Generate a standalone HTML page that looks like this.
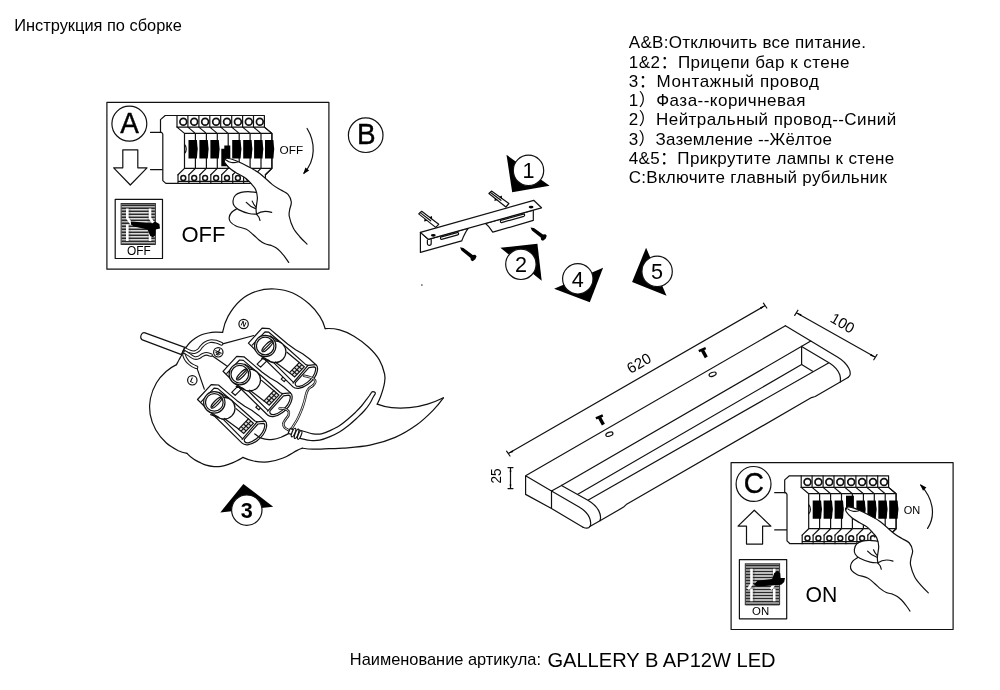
<!DOCTYPE html>
<html lang="ru">
<head>
<meta charset="utf-8">
<title>Инструкция по сборке</title>
<style>
html,body{margin:0;padding:0;background:#fff;}
body{width:1000px;height:690px;overflow:hidden;position:relative;font-family:"Liberation Sans","Noto Sans CJK SC",sans-serif;}
svg{position:absolute;left:0;top:0;display:block;will-change:transform;}
text{font-family:"Liberation Sans","Noto Sans CJK SC",sans-serif;fill:#000;}
.k{fill:none;stroke:#111;stroke-width:1.2;stroke-linecap:round;stroke-linejoin:round;}
.kw{fill:#fff;stroke:#111;stroke-width:1.2;stroke-linecap:round;stroke-linejoin:round;}
.t{fill:none;stroke:#222;stroke-width:0.8;stroke-linecap:round;stroke-linejoin:round;}
.tw{fill:#fff;stroke:#222;stroke-width:0.8;stroke-linecap:round;stroke-linejoin:round;}
.b{fill:#000;stroke:none;}
.w{fill:#fff;stroke:none;}
</style>
</head>
<body>
<svg width="1000" height="690" viewBox="0 0 1000 690">
<rect x="0" y="0" width="1000" height="690" fill="#fff"/>
<g id="texts">
<text x="14.2" y="31.4" font-size="16.4">Инструкция по сборке</text>
<text x="628.8" y="48.3" font-size="17" letter-spacing="0.3">A&amp;B:Отключить все питание.</text>
<text x="628.8" y="67.5" font-size="17" letter-spacing="0.47">1&amp;2：Прицепи бар к стене</text>
<text x="628.8" y="86.8" font-size="17" letter-spacing="0.6">3：Монтажный провод</text>
<text x="628.8" y="106" font-size="17" letter-spacing="0.48">1）Фаза--коричневая</text>
<text x="628.8" y="125.3" font-size="17" letter-spacing="0.42">2）Нейтральный провод--Синий</text>
<text x="628.8" y="144.5" font-size="17" letter-spacing="0.15">3）Заземление --Жёлтое</text>
<text x="628.8" y="163.7" font-size="17" letter-spacing="0.33">4&amp;5：Прикрутите лампы к стене</text>
<text x="628.8" y="183" font-size="17" letter-spacing="0.27">C:Включите главный рубильник</text>
<text x="349.8" y="665" font-size="16.4">Наименование артикула:</text>
<text x="547.4" y="666.6" font-size="20.1">GALLERY B AP12W LED</text>
</g>
<g id="panelA" transform="translate(0 0)">
<rect x="106.9" y="102.3" width="222" height="166.9" class="kw" stroke-width="1.5"/>
<circle cx="129.35" cy="123.65" r="17.45" class="kw" stroke-width="1.4"/>
<text transform="translate(129.6 133) scale(0.95 1)" font-size="29.4" text-anchor="middle" stroke="#000" stroke-width="0.4">A</text>
<path class="kw" stroke-width="1.4" d="M122.8 149.8H137.8V167.8H147L130.3 185L113.7 167.8H122.8Z"/>
<path class="k" stroke-width="1.3" d="M150.5 132.4H162.8M150.5 169.6H162.8"/>
<path class="kw" d="M165.2 115.5H264.4V127.1L271.9 133.4V168.4L265.4 174.8V183.4H165.8L162.8 180.6V134L161.6 132.4H160.5V119.6Z"/>
<path class="k" stroke-width="0.9" stroke="#444" d="M177 115.5V127.1M178 174.8V183.4M187.9 115.5V127.1M188.9 174.8V183.4M198.9 115.5V127.1M199.9 174.8V183.4M209.8 115.5V127.1M210.8 174.8V183.4M220.7 115.5V127.1M221.7 174.8V183.4M231.7 115.5V127.1M232.7 174.8V183.4M242.6 115.5V127.1M243.6 174.8V183.4M253.5 115.5V127.1M254.5 174.8V183.4M178 181.3H265.4"/>
<path class="k" stroke-width="1.35" d="M177 127.1L184.5 133.4V168.4L178 174.8M187.9 127.1L195.4 133.4V168.4L188.9 174.8M198.9 127.1L206.4 133.4V168.4L199.9 174.8M209.8 127.1L217.3 133.4V168.4L210.8 174.8M220.7 127.1L228.2 133.4V168.4L221.7 174.8M231.7 127.1L239.2 133.4V168.4L232.7 174.8M242.6 127.1L250.1 133.4V168.4L243.6 174.8M253.5 127.1L261 133.4V168.4L254.5 174.8M264.4 127.1L271.9 133.4V168.4L265.4 174.8M177 127.1H264.4M184.5 133.4H271.9M184.5 168.4H271.9"/>
<path class="k" stroke-width="1" d="M184.5 144.5C186.8 146.5 186.8 151.5 184.5 153.5"/>
<circle cx="183.3" cy="121.7" r="3.4" fill="#fff" stroke="#111" stroke-width="1.7"/>
<circle cx="183.3" cy="178" r="2.45" fill="#fff" stroke="#111" stroke-width="1.5"/>
<circle cx="194.2" cy="121.7" r="3.4" fill="#fff" stroke="#111" stroke-width="1.7"/>
<circle cx="194.2" cy="178" r="2.45" fill="#fff" stroke="#111" stroke-width="1.5"/>
<circle cx="205.1" cy="121.7" r="3.4" fill="#fff" stroke="#111" stroke-width="1.7"/>
<circle cx="205.1" cy="178" r="2.45" fill="#fff" stroke="#111" stroke-width="1.5"/>
<circle cx="216.1" cy="121.7" r="3.4" fill="#fff" stroke="#111" stroke-width="1.7"/>
<circle cx="216.1" cy="178" r="2.45" fill="#fff" stroke="#111" stroke-width="1.5"/>
<circle cx="227" cy="121.7" r="3.4" fill="#fff" stroke="#111" stroke-width="1.7"/>
<circle cx="227" cy="178" r="2.45" fill="#fff" stroke="#111" stroke-width="1.5"/>
<circle cx="237.9" cy="121.7" r="3.4" fill="#fff" stroke="#111" stroke-width="1.7"/>
<circle cx="237.9" cy="178" r="2.45" fill="#fff" stroke="#111" stroke-width="1.5"/>
<circle cx="248.8" cy="121.7" r="3.4" fill="#fff" stroke="#111" stroke-width="1.7"/>
<circle cx="248.8" cy="178" r="2.45" fill="#fff" stroke="#111" stroke-width="1.5"/>
<circle cx="259.8" cy="121.7" r="3.4" fill="#fff" stroke="#111" stroke-width="1.7"/>
<circle cx="259.8" cy="178" r="2.45" fill="#fff" stroke="#111" stroke-width="1.5"/>
<path class="b" d="M188.5 140.1H196.9L197.4 146Q198.1 149 197.4 152L196.9 158.4H188.5Z"/>
<path class="b" d="M199.4 140.1H207.8L208.3 146Q209 149 208.3 152L207.8 158.4H199.4Z"/>
<path class="b" d="M210.4 140.1H218.8L219.3 146Q220 149 219.3 152L218.8 158.4H210.4Z"/>
<path class="b" d="M221.3 148.7H224.3V145.5H230.3V158H228.3V166.3H221.3Z"/>
<path class="b" d="M232.2 140.1H240.6L241.1 146Q241.8 149 241.1 152L240.6 158.4H232.2Z"/>
<path class="b" d="M243.2 140.1H251.6L252.1 146Q252.8 149 252.1 152L251.6 158.4H243.2Z"/>
<path class="b" d="M254.1 140.1H262.5L263 146Q263.7 149 263 152L262.5 158.4H254.1Z"/>
<path class="b" d="M265 140.1H273.4L273.9 146Q274.6 149 273.9 152L273.4 158.4H265Z"/>
<text x="279.6" y="153.5" font-size="11.8">OFF</text>
<path class="k" stroke-width="1" d="M307.1 128.5C315.5 142 316 160 304 173"/>
<path class="b" d="M303.2 174.2L305.4 167.6L309.2 170.6Z"/>
<rect x="115.2" y="199.3" width="47.3" height="59.2" class="kw" stroke-width="1.3"/>
<rect x="121.1" y="203.5" width="34.3" height="40.9" fill="#b4b4b4" stroke="#333" stroke-width="1"/>
<path d="M121.6 205.2H154.9M121.6 208.2H154.9M121.6 211.2H154.9M121.6 214.2H154.9M121.6 217.2H154.9M121.6 220.2H154.9M121.6 223.2H154.9M121.6 226.2H154.9M121.6 229.2H154.9M121.6 232.2H154.9M121.6 235.2H154.9M121.6 238.2H154.9M121.6 241.2H154.9M121.6 244.2H154.9" stroke="#2a2a2a" stroke-width="1.5" fill="none"/>
<path d="M130.5 209.7H147.5M130.5 212.7H147.5M130.5 215.7H147.5M130.5 218.7H147.5M130.5 221.7H147.5M130.5 224.7H147.5M130.5 227.7H147.5M130.5 230.7H147.5M130.5 233.7H147.5M130.5 236.7H147.5M130.5 239.7H147.5" stroke="#e8e8e8" stroke-width="1.1" fill="none"/>
<path d="M127.3 208.5V218L131.5 224M127.3 224.5V241M150 208.5V218L154 224M150 224.5V241" stroke="#fff" stroke-width="2.6" fill="none"/>
<path class="b" d="M130.8 221.5L135 221.8L152 223.6L155 221.6L159.4 224L160 228.4L155.6 229.4L155.4 235L153 237.2L150.2 236L147.6 229.6L134 226.6L131 224.6Z"/>
<text x="139" y="254.9" font-size="11.9" text-anchor="middle">OFF</text>
<text x="181.4" y="241.6" font-size="22">OFF</text>
<g transform="translate(0 0)">
<path class="w" d="M226.7 158.1L232 159.2L241.1 163L258 172.2L272.4 184.6L281 190L288 194.3L291.3 202L289.6 210L289.3 216.5L293.3 228L300 237L307 244.1L300 262L288.7 262.4L284.8 256.8L280.2 251.3L276 247.7L271.1 245.4L265 243.8L259.3 240.2L253 234.5L246.3 229.3L236 226L230.5 222L229.2 217.5L231.5 212.5L236.5 208.9L233.1 200.5L235.5 195.2L241.1 192.4L250 191L255.4 187.8L246.3 178.7L238 173.8L230.6 169L224.6 162Z"/>
<path class="k" stroke-width="1.25" d="M226.7 158.1C227.6 158.3 229.6 158.4 232 159.2C234.4 160 236.8 160.8 241.1 163C245.4 165.2 252.8 168.6 258 172.2C263.2 175.8 268.6 181.6 272.4 184.6C276.2 187.6 278.4 188.4 281 190C283.6 191.6 286.3 192.3 288 194.3C289.7 196.3 291 199.4 291.3 202C291.6 204.6 289.9 207.6 289.6 210C289.3 212.4 288.7 213.5 289.3 216.5C289.9 219.5 291.5 224.6 293.3 228C295.1 231.4 297.7 234.3 300 237C302.3 239.7 305.8 242.9 307 244.1"/>
<path class="k" stroke-width="1.25" d="M226.7 158.1C226.3 158.3 224.7 158.8 224.4 159.6C224.1 160.4 224 161.4 225 163C226 164.6 228.4 167.2 230.6 169C232.8 170.8 235.4 172.2 238 173.8C240.6 175.4 244 176.9 246.3 178.7C248.6 180.5 250.4 182.8 252 184.6C253.6 186.4 254.7 187.3 255.6 189.5C256.5 191.7 257.3 194.7 257.4 197.8C257.5 200.9 256.2 205.6 256.1 208.3C256 211 256.2 212.7 256.7 214.1C257.1 215.5 258.2 215.9 258.8 217C259.4 218.1 259.8 219.9 260 220.5"/>
<path class="k" stroke-width="1.25" d="M256.3 192.4C254.9 192.3 250.5 191.6 248 191.6C245.5 191.6 243.2 191.8 241.1 192.4C239 193 236.8 193.8 235.5 195.2C234.2 196.5 233.3 198.8 233.1 200.5C232.8 202.2 233.1 204 234 205.5C234.9 207 236 208.3 238.5 209.6C241 210.9 245.9 212.8 248.9 213.5C251.9 214.2 255.4 214 256.7 214.1"/>
<path class="k" stroke-width="1.25" d="M236.5 208.9C235.7 209.5 232.7 211.1 231.5 212.5C230.3 213.9 229.4 215.9 229.2 217.5C229 219.1 229.4 220.6 230.5 222C231.6 223.4 233.4 224.8 236 226C238.6 227.2 243.5 227.9 246.3 229.3C249.1 230.7 250.8 232.7 253 234.5C255.2 236.3 257.3 238.6 259.3 240.2C261.3 241.8 263 242.9 265 243.8C267 244.7 269.3 244.8 271.1 245.4C272.9 246.1 274.5 246.7 276 247.7C277.5 248.7 278.7 249.8 280.2 251.3C281.7 252.8 283.4 255 284.8 256.8C286.2 258.6 288.1 261.5 288.7 262.4"/>
<path class="k" stroke-width="1" d="M226.5 160.2C229 162.6 234 163.4 237.5 162"/>
<path class="k" stroke-width="1" d="M246.3 202.4C249 205.5 252 207.5 255.6 208.6M252.2 201.1C253.2 203.6 254.6 205.6 256 207"/>
<path class="k" stroke-width="1" d="M256.7 214.1C260 211.6 266 210.6 271.7 212.4"/>
</g>
</g>
<g id="panelC" transform="translate(624.2 360.3)">
<rect x="106.9" y="102.3" width="222" height="166.9" class="kw" stroke-width="1.5"/>
<circle cx="129.35" cy="123.65" r="17.45" class="kw" stroke-width="1.4"/>
<text transform="translate(129.6 133) scale(0.95 1)" font-size="29.4" text-anchor="middle" stroke="#000" stroke-width="0.4">C</text>
<path class="kw" stroke-width="1.4" d="M130.1 149.9L146.7 165.8H138.4V183.8H122.3V165.8H113.8Z"/>
<path class="k" stroke-width="1.3" d="M150.5 132.4H162.8M150.5 169.6H162.8"/>
<path class="kw" d="M165.2 115.5H264.4V127.1L271.9 133.4V168.4L265.4 174.8V183.4H165.8L162.8 180.6V134L161.6 132.4H160.5V119.6Z"/>
<path class="k" stroke-width="0.9" stroke="#444" d="M177 115.5V127.1M178 174.8V183.4M187.9 115.5V127.1M188.9 174.8V183.4M198.9 115.5V127.1M199.9 174.8V183.4M209.8 115.5V127.1M210.8 174.8V183.4M220.7 115.5V127.1M221.7 174.8V183.4M231.7 115.5V127.1M232.7 174.8V183.4M242.6 115.5V127.1M243.6 174.8V183.4M253.5 115.5V127.1M254.5 174.8V183.4M178 181.3H265.4"/>
<path class="k" stroke-width="1.35" d="M177 127.1L184.5 133.4V168.4L178 174.8M187.9 127.1L195.4 133.4V168.4L188.9 174.8M198.9 127.1L206.4 133.4V168.4L199.9 174.8M209.8 127.1L217.3 133.4V168.4L210.8 174.8M220.7 127.1L228.2 133.4V168.4L221.7 174.8M231.7 127.1L239.2 133.4V168.4L232.7 174.8M242.6 127.1L250.1 133.4V168.4L243.6 174.8M253.5 127.1L261 133.4V168.4L254.5 174.8M264.4 127.1L271.9 133.4V168.4L265.4 174.8M177 127.1H264.4M184.5 133.4H271.9M184.5 168.4H271.9"/>
<path class="k" stroke-width="1" d="M184.5 144.5C186.8 146.5 186.8 151.5 184.5 153.5"/>
<circle cx="183.3" cy="121.7" r="3.4" fill="#fff" stroke="#111" stroke-width="1.7"/>
<circle cx="183.3" cy="178" r="2.45" fill="#fff" stroke="#111" stroke-width="1.5"/>
<circle cx="194.2" cy="121.7" r="3.4" fill="#fff" stroke="#111" stroke-width="1.7"/>
<circle cx="194.2" cy="178" r="2.45" fill="#fff" stroke="#111" stroke-width="1.5"/>
<circle cx="205.1" cy="121.7" r="3.4" fill="#fff" stroke="#111" stroke-width="1.7"/>
<circle cx="205.1" cy="178" r="2.45" fill="#fff" stroke="#111" stroke-width="1.5"/>
<circle cx="216.1" cy="121.7" r="3.4" fill="#fff" stroke="#111" stroke-width="1.7"/>
<circle cx="216.1" cy="178" r="2.45" fill="#fff" stroke="#111" stroke-width="1.5"/>
<circle cx="227" cy="121.7" r="3.4" fill="#fff" stroke="#111" stroke-width="1.7"/>
<circle cx="227" cy="178" r="2.45" fill="#fff" stroke="#111" stroke-width="1.5"/>
<circle cx="237.9" cy="121.7" r="3.4" fill="#fff" stroke="#111" stroke-width="1.7"/>
<circle cx="237.9" cy="178" r="2.45" fill="#fff" stroke="#111" stroke-width="1.5"/>
<circle cx="248.8" cy="121.7" r="3.4" fill="#fff" stroke="#111" stroke-width="1.7"/>
<circle cx="248.8" cy="178" r="2.45" fill="#fff" stroke="#111" stroke-width="1.5"/>
<circle cx="259.8" cy="121.7" r="3.4" fill="#fff" stroke="#111" stroke-width="1.7"/>
<circle cx="259.8" cy="178" r="2.45" fill="#fff" stroke="#111" stroke-width="1.5"/>
<path class="b" d="M188.5 140.1H196.9L197.4 146Q198.1 149 197.4 152L196.9 158.4H188.5Z"/>
<path class="b" d="M199.4 140.1H207.8L208.3 146Q209 149 208.3 152L207.8 158.4H199.4Z"/>
<path class="b" d="M210.4 140.1H218.8L219.3 146Q220 149 219.3 152L218.8 158.4H210.4Z"/>
<path class="b" d="M221.8 135.4H229.7V150H221.8Z"/>
<path class="b" d="M232.2 140.1H240.6L241.1 146Q241.8 149 241.1 152L240.6 158.4H232.2Z"/>
<path class="b" d="M243.2 140.1H251.6L252.1 146Q252.8 149 252.1 152L251.6 158.4H243.2Z"/>
<path class="b" d="M254.1 140.1H262.5L263 146Q263.7 149 263 152L262.5 158.4H254.1Z"/>
<path class="b" d="M265 140.1H273.4L273.9 146Q274.6 149 273.9 152L273.4 158.4H265Z"/>
<text x="279.6" y="153.5" font-size="11">ON</text>
<path class="k" stroke-width="1" d="M296.6 125C308 137 312.5 154 303.4 168.1"/>
<path class="b" d="M295.8 123.8L302.2 127.2L298.8 130.4Z"/>
<rect x="115.2" y="199.3" width="47.3" height="59.2" class="kw" stroke-width="1.3"/>
<rect x="121.1" y="203.5" width="34.3" height="40.9" fill="#b4b4b4" stroke="#333" stroke-width="1"/>
<path d="M121.6 205.2H154.9M121.6 208.2H154.9M121.6 211.2H154.9M121.6 214.2H154.9M121.6 217.2H154.9M121.6 220.2H154.9M121.6 223.2H154.9M121.6 226.2H154.9M121.6 229.2H154.9M121.6 232.2H154.9M121.6 235.2H154.9M121.6 238.2H154.9M121.6 241.2H154.9M121.6 244.2H154.9" stroke="#2a2a2a" stroke-width="1.5" fill="none"/>
<path d="M130.5 209.7H147.5M130.5 212.7H147.5M130.5 215.7H147.5M130.5 218.7H147.5M130.5 221.7H147.5M130.5 224.7H147.5M130.5 227.7H147.5M130.5 230.7H147.5M130.5 233.7H147.5M130.5 236.7H147.5M130.5 239.7H147.5" stroke="#e8e8e8" stroke-width="1.1" fill="none"/>
<path d="M127.3 208.5V224L123.8 229M127.3 228.5V241M150 208.5V224L146.5 229M150 228.5V241" stroke="#fff" stroke-width="2.6" fill="none"/>
<path class="b" d="M130 223.6L133 220.6L148 218.6L150 212.6L153.4 210.8L156 213L156.4 217.6L160.8 217.6L160 221.6L157 224.4L134 226.2L130.2 225.2Z"/>
<text x="136.4" y="254.9" font-size="11.4" text-anchor="middle">ON</text>
<text x="181.4" y="241.6" font-size="21.2">ON</text>
<g transform="translate(-2.9 -11.6)">
<path class="w" d="M226.7 158.1L232 159.2L241.1 163L258 172.2L272.4 184.6L281 190L288 194.3L291.3 202L289.6 210L289.3 216.5L293.3 228L300 237L307 244.1L300 262L288.7 262.4L284.8 256.8L280.2 251.3L276 247.7L271.1 245.4L265 243.8L259.3 240.2L253 234.5L246.3 229.3L236 226L230.5 222L229.2 217.5L231.5 212.5L236.5 208.9L233.1 200.5L235.5 195.2L241.1 192.4L250 191L255.4 187.8L246.3 178.7L238 173.8L230.6 169L224.6 162Z"/>
<path class="k" stroke-width="1.25" d="M226.7 158.1C227.6 158.3 229.6 158.4 232 159.2C234.4 160 236.8 160.8 241.1 163C245.4 165.2 252.8 168.6 258 172.2C263.2 175.8 268.6 181.6 272.4 184.6C276.2 187.6 278.4 188.4 281 190C283.6 191.6 286.3 192.3 288 194.3C289.7 196.3 291 199.4 291.3 202C291.6 204.6 289.9 207.6 289.6 210C289.3 212.4 288.7 213.5 289.3 216.5C289.9 219.5 291.5 224.6 293.3 228C295.1 231.4 297.7 234.3 300 237C302.3 239.7 305.8 242.9 307 244.1"/>
<path class="k" stroke-width="1.25" d="M226.7 158.1C226.3 158.3 224.7 158.8 224.4 159.6C224.1 160.4 224 161.4 225 163C226 164.6 228.4 167.2 230.6 169C232.8 170.8 235.4 172.2 238 173.8C240.6 175.4 244 176.9 246.3 178.7C248.6 180.5 250.4 182.8 252 184.6C253.6 186.4 254.7 187.3 255.6 189.5C256.5 191.7 257.3 194.7 257.4 197.8C257.5 200.9 256.2 205.6 256.1 208.3C256 211 256.2 212.7 256.7 214.1C257.1 215.5 258.2 215.9 258.8 217C259.4 218.1 259.8 219.9 260 220.5"/>
<path class="k" stroke-width="1.25" d="M256.3 192.4C254.9 192.3 250.5 191.6 248 191.6C245.5 191.6 243.2 191.8 241.1 192.4C239 193 236.8 193.8 235.5 195.2C234.2 196.5 233.3 198.8 233.1 200.5C232.8 202.2 233.1 204 234 205.5C234.9 207 236 208.3 238.5 209.6C241 210.9 245.9 212.8 248.9 213.5C251.9 214.2 255.4 214 256.7 214.1"/>
<path class="k" stroke-width="1.25" d="M236.5 208.9C235.7 209.5 232.7 211.1 231.5 212.5C230.3 213.9 229.4 215.9 229.2 217.5C229 219.1 229.4 220.6 230.5 222C231.6 223.4 233.4 224.8 236 226C238.6 227.2 243.5 227.9 246.3 229.3C249.1 230.7 250.8 232.7 253 234.5C255.2 236.3 257.3 238.6 259.3 240.2C261.3 241.8 263 242.9 265 243.8C267 244.7 269.3 244.8 271.1 245.4C272.9 246.1 274.5 246.7 276 247.7C277.5 248.7 278.7 249.8 280.2 251.3C281.7 252.8 283.4 255 284.8 256.8C286.2 258.6 288.1 261.5 288.7 262.4"/>
<path class="k" stroke-width="1" d="M226.5 160.2C229 162.6 234 163.4 237.5 162"/>
<path class="k" stroke-width="1" d="M246.3 202.4C249 205.5 252 207.5 255.6 208.6M252.2 201.1C253.2 203.6 254.6 205.6 256 207"/>
<path class="k" stroke-width="1" d="M256.7 214.1C260 211.6 266 210.6 271.7 212.4"/>
</g>
</g>
<circle cx="365.7" cy="135.2" r="17.3" class="kw" stroke-width="1.4"/>
<text transform="translate(366.3 144.4) scale(0.95 1)" font-size="29.4" text-anchor="middle" stroke="#000" stroke-width="0.4">B</text>
<g id="arrows">
<path class="b" d="M506.5 154.8L549.6 185.7L512.2 192.2Z"/>
<circle cx="528.5" cy="170.4" r="15.2" fill="#fff" stroke="#111" stroke-width="1.2"/>
<text x="528.5" y="178.1" font-size="21.6" text-anchor="middle">1</text>
<path class="b" d="M500.4 247.8L537.4 243.7L541.7 280.7Z"/>
<circle cx="520.9" cy="264.3" r="15.2" fill="#fff" stroke="#111" stroke-width="1.2"/>
<text x="520.9" y="272" font-size="21.6" text-anchor="middle">2</text>
<path class="b" d="M554.1 288.7L603.1 267.7L589.8 302.3Z"/>
<circle cx="577.8" cy="278.8" r="15.2" fill="#fff" stroke="#111" stroke-width="1.2"/>
<text x="577.8" y="286.5" font-size="21.6" text-anchor="middle">4</text>
<path class="b" d="M646.1 247.7L666.5 295.7L632.1 282Z"/>
<circle cx="657.1" cy="271.4" r="15.2" fill="#fff" stroke="#111" stroke-width="1.2"/>
<text x="657.1" y="279.1" font-size="21.6" text-anchor="middle">5</text>
<path class="b" d="M243.4 484L273.2 506.7L220.3 512.4Z"/>
<circle cx="246.8" cy="510.1" r="15.2" fill="#fff" stroke="#111" stroke-width="1.2"/>
<text x="246.8" y="517.8" font-size="21.6" text-anchor="middle" font-weight="bold">3</text>
</g>
<g id="bracket">
<path class="kw" stroke-width="1.3" d="M418.7 213.9L421.7 211.3L438.7 224.3L435.7 227.4Z"/>
<path class="k" stroke-width="1" d="M420.2 212.6L430.7 220.8"/>
<path class="b" d="M429.4 217.3L432 216L432.1 219.4Z"/>
<path class="b" d="M424.7 218.5L424.1 221.4L427.4 220.7Z"/>
<path class="kw" stroke-width="1.3" d="M488.9 193.5L491.5 191.1L508.9 203.5L505.9 207Z"/>
<path class="k" stroke-width="1" d="M490.2 192.3L500.9 200.3"/>
<path class="b" d="M499.2 196.9L501.8 195.6L502 199Z"/>
<path class="b" d="M494.9 198L494.4 200.9L497.7 200.1Z"/>
<path class="kw" stroke-width="1.5" d="M420.4 232.4V252.4L461.7 240.9C463.5 236.5 465 232.5 468.4 228.2L428.3 239.3Z"/>
<path class="kw" stroke-width="1.5" d="M485.5 223.4C489 226 490.5 229 492.8 232.2L533.3 220.4V210.2Z"/>
<path class="kw" stroke-width="1.5" d="M420.4 232.4L533.7 200.3L541.5 207.8L428.3 239.3Z"/>
<path class="kw" stroke-width="1" d="M440.6 237.2L458 232.4L458.6 233.6C458.8 234.3 458.5 234.7 457.8 234.9L441.6 239.4C440.6 239.5 440.2 238.6 440.6 237.2Z"/>
<path class="kw" stroke-width="1" d="M500.6 220.4L524.2 213.8L524.6 215C524.7 215.7 524.4 216.1 523.8 216.3L501.6 222.6C500.6 222.7 500.2 221.8 500.6 220.4Z"/>
<path class="k" stroke-width="1" d="M427.4 240.4V243.4C427.4 246 431.2 246 431.2 243.2V239.6"/>
<ellipse cx="433.3" cy="235.3" rx="2.4" ry="1.4" class="b"/>
<ellipse cx="531.1" cy="207.1" rx="2.4" ry="1.4" class="b"/>
<path class="b" d="M460 247.3L461.4 250.4L470.5 257.9L470.9 260.3L472.7 261.2L475.3 259.3L476.6 256.3L475.2 254.8L472.8 254.9L463.4 247.9Z"/>
<path class="b" d="M530.5 227.5L531.9 230.6L540.7 237.5L541.2 239.9L543 240.8L545.6 238.8L546.8 235.7L545.4 234.2L543 234.4L533.9 228Z"/>
<circle cx="421.9" cy="285.1" r="0.8" fill="#333"/>
</g>
<g id="cloud">
<path class="k" stroke-width="1.1" d="M222.6 332.4C220.1 332.1 217.4 332 215 332.1C212.6 332.2 210.6 332.5 208.3 333C206 333.5 203.2 334.1 201 335C198.8 335.9 197 337.1 195.2 338.3C193.4 339.6 191.5 341 190 342.5C188.5 344 187.2 345.6 186.1 347.4"/>
<path class="k" stroke-width="1.1" d="M181.7 355C180.9 356.5 180.1 357.9 179.2 359.5C178.3 361.1 177.4 362.9 176.5 364.6"/>
<path class="k" stroke-width="1.1" d="M176.5 364.6C172.8 366.4 169.4 368.5 166.1 371.5C162.8 374.5 159.1 378.3 156.5 382.8C153.9 387.3 151.5 393.3 150.4 398.5C149.3 403.7 149.2 408.9 150.1 414.1C151 419.3 153 425 155.7 429.8C158.4 434.6 162.3 439.3 166.1 442.8C169.9 446.3 174.8 448.9 178.3 450.7C181.8 452.4 184 452.8 187 453.3"/>
<path class="k" stroke-width="1.1" d="M187 453.3C189 455.6 191.8 457.8 193.9 459.3C196 460.8 197.8 461.4 199.8 462.4C201.8 463.4 203.7 464.5 206.1 465.2C208.5 465.9 211.5 466.4 214 466.6C216.5 466.8 218.6 466.8 221 466.4C223.4 466 225.9 465.3 228.4 464.4C230.9 463.5 233.6 462.4 236 461.2C238.4 460 240.6 458.8 242.8 457.4"/>
<path class="k" stroke-width="1.1" d="M242.8 457.4C246.2 459 249.4 460.2 253.6 461C257.8 461.8 263.2 462.3 268 461.9C272.8 461.4 277.6 460.2 282.4 458.3C287.2 456.4 293.5 452.3 296.8 450.6C300.1 448.9 300.4 449 302.2 448.2"/>
<path class="k" stroke-width="1.1" d="M302.2 448.2C305.8 448.7 308.5 449.1 313 449.2C317.5 449.3 324.2 448.8 329.2 448.6C334.2 448.4 336.2 448.8 343 448.2C349.8 447.6 361.3 447 370 445.2C378.7 443.4 387.4 440.8 395.2 437.4C403 434 410.5 429.3 416.8 424.8C423.1 420.3 428.6 414.9 433 410.4C437.4 405.9 440.2 402.2 443.4 397.8"/>
<path class="k" stroke-width="1.1" d="M443.4 397.8C438.4 400.3 433.2 402.5 427.6 404.1C422 405.8 415.6 407.1 409.6 407.7C403.6 408.3 397 408.3 391.6 407.7C386.2 407.1 381.8 405.8 377.2 404.1"/>
<path class="k" stroke-width="1.1" d="M377.2 404.1C378.5 401.5 379.6 399.4 380.8 396C382 392.6 383.8 387.1 384.4 383.4C385 379.7 385.5 378 384.6 374C383.7 370 381.9 364.1 379.2 359.6C376.5 355.1 372.6 350.9 368.4 347C364.2 343.1 358.8 339.1 354 336.2C349.2 333.3 344.4 331.2 339.6 329.9C334.8 328.6 330 328.3 325.2 328.6"/>
<path class="k" stroke-width="1.1" d="M325.2 328.6C324 324.4 322.5 320.5 319.8 316.4C317.1 312.3 313.5 307.7 309 303.8C304.5 299.9 298.5 295.5 292.8 293C287.1 290.5 280.8 289.3 274.8 289C268.8 288.7 262.5 289.3 256.8 291.2C251.1 293.1 245.4 296 240.6 300.2C235.8 304.4 231 311 228 316.4C225 321.8 223.6 326.9 222.6 332.4"/>
<circle cx="243.6" cy="324" r="4.7" class="kw" stroke-width="1.05"/>
<text x="243.6" y="326.3" font-size="7" font-weight="bold" text-anchor="middle" transform="rotate(25 243.6 324)">N</text>
<circle cx="218.3" cy="352.3" r="4.7" class="kw" stroke-width="1.05"/>
<path class="k" stroke-width="0.9" transform="rotate(25 218.3 352.3)" d="M218.3 349.1V353.3M215.3 351.9H221.3M216.3 353.5H220.3M217.3 354.9H219.3"/>
<circle cx="192.3" cy="380.3" r="4.7" class="kw" stroke-width="1.05"/>
<text x="192.3" y="382.6" font-size="7" font-weight="bold" text-anchor="middle" transform="rotate(25 192.3 380.3)">L</text>
<path class="k" stroke-width="1.05" d="M222.7 343.9L253.9 335.5M211.5 355.3L226.5 365.7L239.5 373.6M196.8 367.6L204.3 389.1"/>
<path class="kw" stroke-width="1.2" d="M184.8 347.4L145 332.9C141.5 331.8 139 337.6 142.4 339.9L181.5 354.6Z"/>
<path class="k" stroke-width="1.6" d="M185.2 347.2C183.6 349.5 182.4 352.2 181.7 355"/>
<path d="M185.5 349.3C186.2 349.7 188.5 351.1 190 351.6C191.5 352.1 193.1 352.4 194.5 352.2C195.9 352 197.3 351.1 198.5 350.2C199.7 349.2 200.4 347.6 201.5 346.5C202.6 345.4 203.6 344.2 205 343.3C206.4 342.4 208.2 341.5 210 341.2C211.8 340.9 214.1 341.2 216 341.6C217.9 342 220.6 343.4 221.5 343.8" fill="none" stroke="#1a1a1a" stroke-width="3.7" stroke-linecap="round"/>
<path d="M185.5 349.3C186.2 349.7 188.5 351.1 190 351.6C191.5 352.1 193.1 352.4 194.5 352.2C195.9 352 197.3 351.1 198.5 350.2C199.7 349.2 200.4 347.6 201.5 346.5C202.6 345.4 203.6 344.2 205 343.3C206.4 342.4 208.2 341.5 210 341.2C211.8 340.9 214.1 341.2 216 341.6C217.9 342 220.6 343.4 221.5 343.8" fill="none" stroke="#fff" stroke-width="1.6" stroke-linecap="round"/>
<path d="M185 352.3C185.8 352.8 188 354.1 189.5 355C191 355.9 192.5 357.4 194 357.8C195.5 358.2 197.1 358.1 198.5 357.6C199.9 357.1 201.2 355.6 202.5 355C203.8 354.4 205.1 353.8 206.5 353.8C207.9 353.8 210.2 354.8 211 355" fill="none" stroke="#1a1a1a" stroke-width="3.7" stroke-linecap="round"/>
<path d="M185 352.3C185.8 352.8 188 354.1 189.5 355C191 355.9 192.5 357.4 194 357.8C195.5 358.2 197.1 358.1 198.5 357.6C199.9 357.1 201.2 355.6 202.5 355C203.8 354.4 205.1 353.8 206.5 353.8C207.9 353.8 210.2 354.8 211 355" fill="none" stroke="#fff" stroke-width="1.6" stroke-linecap="round"/>
<path d="M184 354.8C184.2 355.4 184.8 357.2 185.5 358.5C186.2 359.8 187.3 361.3 188.5 362.5C189.7 363.7 191.2 364.7 192.5 365.5C193.8 366.3 195.8 366.9 196.5 367.2" fill="none" stroke="#1a1a1a" stroke-width="3.7" stroke-linecap="round"/>
<path d="M184 354.8C184.2 355.4 184.8 357.2 185.5 358.5C186.2 359.8 187.3 361.3 188.5 362.5C189.7 363.7 191.2 364.7 192.5 365.5C193.8 366.3 195.8 366.9 196.5 367.2" fill="none" stroke="#fff" stroke-width="1.6" stroke-linecap="round"/>
<g transform="translate(265.6 345.6)"><path class="kw" stroke-width="1.1" d="M-2.5 12.5L-8.5 18.5L-5 21.5L1 15.5Z"/><path class="kw" stroke-width="1.1" d="M19 29.5L15.6 33.5L18.6 36L22 32Z"/></g>
<g transform="translate(240.2 373.8)"><path class="kw" stroke-width="1.1" d="M-2.5 12.5L-8.5 18.5L-5 21.5L1 15.5Z"/><path class="kw" stroke-width="1.1" d="M19 29.5L15.6 33.5L18.6 36L22 32Z"/></g>
<g transform="translate(265.6 345.6)">
<path class="kw" stroke-width="1.4" d="M-17.2 -2.5L-3.5 -17.4L3.8 -17L14 -8.4L22 -1.6L30 4.2L37 8.2L44 13.4L50.3 19.1C52 20.3 52.3 22.5 51.7 25.5C50.8 30 48 34.5 42.4 38.7C39 41.2 35.6 42.5 32.9 42.8C30 43 28.8 42.6 27.4 41.2Z"/>
<path class="k" stroke-width="1" d="M-13.4 -0.4L-0.6 -13.8L3.2 -13.4L21.3 2.2L40.2 19L42.4 19.8L50.3 19.1"/>
<path class="k" stroke-width="1" d="M-4 12.6L8.3 17.2L27.6 36.6"/>
<path class="k" stroke-width="1" d="M27.5 37.4L42.4 19.8"/>
<path class="k" stroke-width="1" d="M43.3 22L48.6 21.3C50 21.6 50.3 22.8 50 24.2C49.6 28 47 32.6 41.7 36.8C38.6 39.2 36 40.4 33.7 40.8C31.6 41 30.6 40.6 30 39.6C29.4 38.6 29.4 37.6 30 36.8Z"/>
<circle cx="9.4" cy="6.2" r="10.9" class="kw" stroke-width="1.1"/>
<path class="w" d="M-2 -9L8 -4L2 14L-10 8Z"/>
<path class="k" stroke-width="1" d="M4.6 -9.6L14 -3.8M-5.5 9.6L4 15.6"/>
<path class="k" stroke-width="1" d="M21.4 6.6L33.7 16.9M9.6 16.4L23.9 27.1"/>
<path d="M23.9 27.1L33.7 16.9L38.7 21.3L29 31.4Z" fill="#ddd" stroke="#111" stroke-width="1.2"/>
<path d="M26.4 29.2L36.2 19.1M26.4 24.6L31.4 28.9M28.8 22.0L33.9 26.4M31.2 19.4L36.3 23.8" stroke="#111" stroke-width="1.1" fill="none"/>
<circle cx="-0.4" cy="0.4" r="10.7" class="kw" stroke-width="1.2"/>
<circle cx="-0.4" cy="0.4" r="8.8" class="k" stroke-width="1.2"/>
<ellipse cx="1.8" cy="0.6" rx="7.4" ry="2.2" transform="rotate(-45 1.8 0.6)" class="k" stroke-width="1.2"/>
<path class="k" stroke-width="1.1" d="M-2.6 5L6.2 -3.8"/>
</g>
<g transform="translate(240.2 373.8)">
<path class="kw" stroke-width="1.4" d="M-17.2 -2.5L-3.5 -17.4L3.8 -17L14 -8.4L22 -1.6L30 4.2L37 8.2L44 13.4L50.3 19.1C52 20.3 52.3 22.5 51.7 25.5C50.8 30 48 34.5 42.4 38.7C39 41.2 35.6 42.5 32.9 42.8C30 43 28.8 42.6 27.4 41.2Z"/>
<path class="k" stroke-width="1" d="M-13.4 -0.4L-0.6 -13.8L3.2 -13.4L21.3 2.2L40.2 19L42.4 19.8L50.3 19.1"/>
<path class="k" stroke-width="1" d="M-4 12.6L8.3 17.2L27.6 36.6"/>
<path class="k" stroke-width="1" d="M27.5 37.4L42.4 19.8"/>
<path class="k" stroke-width="1" d="M43.3 22L48.6 21.3C50 21.6 50.3 22.8 50 24.2C49.6 28 47 32.6 41.7 36.8C38.6 39.2 36 40.4 33.7 40.8C31.6 41 30.6 40.6 30 39.6C29.4 38.6 29.4 37.6 30 36.8Z"/>
<circle cx="9.4" cy="6.2" r="10.9" class="kw" stroke-width="1.1"/>
<path class="w" d="M-2 -9L8 -4L2 14L-10 8Z"/>
<path class="k" stroke-width="1" d="M4.6 -9.6L14 -3.8M-5.5 9.6L4 15.6"/>
<path class="k" stroke-width="1" d="M21.4 6.6L33.7 16.9M9.6 16.4L23.9 27.1"/>
<path d="M23.9 27.1L33.7 16.9L38.7 21.3L29 31.4Z" fill="#ddd" stroke="#111" stroke-width="1.2"/>
<path d="M26.4 29.2L36.2 19.1M26.4 24.6L31.4 28.9M28.8 22.0L33.9 26.4M31.2 19.4L36.3 23.8" stroke="#111" stroke-width="1.1" fill="none"/>
<circle cx="-0.4" cy="0.4" r="10.7" class="kw" stroke-width="1.2"/>
<circle cx="-0.4" cy="0.4" r="8.8" class="k" stroke-width="1.2"/>
<ellipse cx="1.8" cy="0.6" rx="7.4" ry="2.2" transform="rotate(-45 1.8 0.6)" class="k" stroke-width="1.2"/>
<path class="k" stroke-width="1.1" d="M-2.6 5L6.2 -3.8"/>
</g>
<g transform="translate(214.7 402)">
<path class="kw" stroke-width="1.4" d="M-17.2 -2.5L-3.5 -17.4L3.8 -17L14 -8.4L22 -1.6L30 4.2L37 8.2L44 13.4L50.3 19.1C52 20.3 52.3 22.5 51.7 25.5C50.8 30 48 34.5 42.4 38.7C39 41.2 35.6 42.5 32.9 42.8C30 43 28.8 42.6 27.4 41.2Z"/>
<path class="k" stroke-width="1" d="M-13.4 -0.4L-0.6 -13.8L3.2 -13.4L21.3 2.2L40.2 19L42.4 19.8L50.3 19.1"/>
<path class="k" stroke-width="1" d="M-4 12.6L8.3 17.2L27.6 36.6"/>
<path class="k" stroke-width="1" d="M27.5 37.4L42.4 19.8"/>
<path class="k" stroke-width="1" d="M43.3 22L48.6 21.3C50 21.6 50.3 22.8 50 24.2C49.6 28 47 32.6 41.7 36.8C38.6 39.2 36 40.4 33.7 40.8C31.6 41 30.6 40.6 30 39.6C29.4 38.6 29.4 37.6 30 36.8Z"/>
<circle cx="9.4" cy="6.2" r="10.9" class="kw" stroke-width="1.1"/>
<path class="w" d="M-2 -9L8 -4L2 14L-10 8Z"/>
<path class="k" stroke-width="1" d="M4.6 -9.6L14 -3.8M-5.5 9.6L4 15.6"/>
<path class="k" stroke-width="1" d="M21.4 6.6L33.7 16.9M9.6 16.4L23.9 27.1"/>
<path d="M23.9 27.1L33.7 16.9L38.7 21.3L29 31.4Z" fill="#ddd" stroke="#111" stroke-width="1.2"/>
<path d="M26.4 29.2L36.2 19.1M26.4 24.6L31.4 28.9M28.8 22.0L33.9 26.4M31.2 19.4L36.3 23.8" stroke="#111" stroke-width="1.1" fill="none"/>
<circle cx="-0.4" cy="0.4" r="10.7" class="kw" stroke-width="1.2"/>
<circle cx="-0.4" cy="0.4" r="8.8" class="k" stroke-width="1.2"/>
<ellipse cx="1.8" cy="0.6" rx="7.4" ry="2.2" transform="rotate(-45 1.8 0.6)" class="k" stroke-width="1.2"/>
<path class="k" stroke-width="1.1" d="M-2.6 5L6.2 -3.8"/>
</g>
<path d="M304 375.8C304.8 376 307.4 376.5 309 377C310.6 377.5 312.4 378 313.5 378.8C314.6 379.6 315.4 380.9 315.3 382C315.2 383.1 314.1 384.4 313 385.5C311.9 386.6 309.9 387.2 308.8 388.5C307.7 389.8 307.2 390.9 306.5 393C305.8 395.1 305.3 398.2 304.5 401C303.7 403.8 302.9 406.5 301.7 409.5C300.5 412.5 299.2 415.8 297.5 419C295.8 422.2 292.6 427 291.6 428.6" fill="none" stroke="#1a1a1a" stroke-width="2.5" stroke-linecap="round"/>
<path d="M304 375.8C304.8 376 307.4 376.5 309 377C310.6 377.5 312.4 378 313.5 378.8C314.6 379.6 315.4 380.9 315.3 382C315.2 383.1 314.1 384.4 313 385.5C311.9 386.6 309.9 387.2 308.8 388.5C307.7 389.8 307.2 390.9 306.5 393C305.8 395.1 305.3 398.2 304.5 401C303.7 403.8 302.9 406.5 301.7 409.5C300.5 412.5 299.2 415.8 297.5 419C295.8 422.2 292.6 427 291.6 428.6" fill="none" stroke="#fff" stroke-width="0.9" stroke-linecap="round"/>
<path d="M279.6 408.5C280.4 408.6 283 408.3 284.5 408.8C286 409.3 288 410.3 288.6 411.4C289.2 412.5 288.9 414.1 288.4 415.5C287.9 416.9 286.3 418.2 285.5 419.5C284.7 420.8 283.5 422.2 283.4 423.5C283.2 424.8 283.6 426.3 284.6 427.5C285.6 428.7 288.8 430.1 289.6 430.6" fill="none" stroke="#1a1a1a" stroke-width="2.5" stroke-linecap="round"/>
<path d="M279.6 408.5C280.4 408.6 283 408.3 284.5 408.8C286 409.3 288 410.3 288.6 411.4C289.2 412.5 288.9 414.1 288.4 415.5C287.9 416.9 286.3 418.2 285.5 419.5C284.7 420.8 283.5 422.2 283.4 423.5C283.2 424.8 283.6 426.3 284.6 427.5C285.6 428.7 288.8 430.1 289.6 430.6" fill="none" stroke="#fff" stroke-width="0.9" stroke-linecap="round"/>
<path class="k" stroke-width="1.1" d="M254.8 433.9C255.5 434.4 257.3 436.1 259 437C260.7 437.9 262.7 438.8 265 439.2C267.3 439.6 270.3 439.6 273 439.3C275.7 439 278.4 438.1 281 437.2C283.6 436.2 287.4 434.2 288.7 433.6"/>
<path class="kw" stroke-width="1.25" d="M299 430C300.2 430.3 303.8 431.4 306.1 432C308.4 432.6 310.4 433.6 313 433.9C315.6 434.2 318.6 434.4 321.4 433.8C324.2 433.2 327 432 330 430.6C333 429.2 336.5 427.6 339.4 425.7C342.3 423.8 344.8 421.8 347.5 419.5C350.2 417.2 353.3 414.4 355.6 412.2C357.9 409.9 359.7 408.1 361.5 406C363.3 403.9 365.1 401.4 366.4 399.6C367.7 397.9 368.6 396.7 369.5 395.5C370.4 394.3 371.2 392.8 371.6 392.3C372.6 390.8 376.2 392.2 375.2 393.8C374.8 394.4 373.9 395.9 373 397.5C372.1 399.1 371.4 401 370 403.2C368.6 405.4 366.6 408.1 364.5 410.5C362.4 412.9 360.1 415.1 357.4 417.6C354.7 420.1 351.5 423.1 348.5 425.5C345.5 427.9 342.5 430.1 339.4 432C336.3 433.9 333.3 435.2 330 436.6C326.7 438 322.8 439.5 319.6 440.1C316.4 440.8 313.7 440.6 311 440.5C308.3 440.4 305.7 439.8 303.4 439.2C301.1 438.6 298.1 437.4 297 437"/>
<g transform="translate(296.6 433.8) rotate(22)"><rect x="-8" y="-2.6" width="4.5" height="5.2" class="kw" stroke-width="1.1"/><ellipse cx="-3.3" cy="0" rx="1.5" ry="4.6" class="kw" stroke-width="1.9"/><ellipse cx="0" cy="0" rx="1.5" ry="5" class="kw" stroke-width="1.9"/><ellipse cx="3.3" cy="0" rx="1.5" ry="4.6" class="kw" stroke-width="1.6"/></g>
</g>
<g id="lamp">
<path class="w" d="M525.6 475.8L785.4 325.8L837.4 357L846.5 364.6L850.3 372.2L848 377.5L600 520.7L589.6 526.5L583 527.2L551.5 508.5L525.6 494.4Z"/>
<path class="k" stroke-width="1.4" d="M525.6 494.4L525.6 475.8L785.4 325.8M525.6 475.8L551.5 491L561.5 485.4M551.5 491L551.5 508.5M525.6 494.4L551.5 508.5L583 527.2M561.5 485.4L810.8 341.1M577.8 494.2L801.6 364.6M588.3 499.9L828.5 363"/>
<path class="k" stroke-width="1.4" d="M600 520.7L623.6 507.1L626.2 504.6L811.5 397.6L815.2 396.5L848 377.5"/>
<path class="k" stroke-width="1.4" d="M785.4 325.8L837.4 357C842.5 360 846.5 364 848.8 368.2C850.8 372 850.6 375.6 848 377.5"/>
<path class="k" stroke-width="1.4" d="M801.6 346.4L829.8 363.2C835 366.5 838.3 370.6 839.8 374.8C840.6 377.4 840.7 379.7 840.4 381.9"/>
<path class="k" stroke-width="1.1" d="M801.6 346.4V364.6L812.6 371.2"/>
<path class="k" stroke-width="1.4" d="M561.5 485.4L588.3 500.4C593 503.2 596.6 506.6 598.7 510.6C600.6 514.2 601 517.8 600 520.7L589.8 526.6"/>
<path class="k" stroke-width="1.4" d="M551.5 491L579.1 507C584 509.8 587.6 513.6 589.4 517.4C590.8 520.6 591 523.6 590.2 526C589 528.2 586 528.6 583 527.2"/>
<g transform="translate(599 415.9)"><path class="b" d="M-3.6 1.4L3.3 -1.6L4.3 0.6L2.4 1.5L5.9 7.9L2.9 9.6L-0.8 2.9L-2.6 3.6Z"/></g>
<g transform="translate(701.9 348.6)"><path class="b" d="M-3.6 1.4L3.3 -1.6L4.3 0.6L2.4 1.5L5.9 7.9L2.9 9.6L-0.8 2.9L-2.6 3.6Z"/></g>
<ellipse cx="609.4" cy="434.2" rx="3.7" ry="1.9" transform="rotate(-20 609.4 434.2)" class="k" stroke-width="1.2"/>
<ellipse cx="712.6" cy="374.3" rx="3.7" ry="1.9" transform="rotate(-20 712.6 374.3)" class="k" stroke-width="1.2"/>
<path class="k" stroke-width="0.95" d="M508.3 453.6L765.1 305.6M506.6 451.2L510 456M763.4 303.2L766.8 308M796.3 312.8L875.4 357.2M797.9 310.2L794.7 315.4M877 354.6L873.8 359.8M510.5 467.6V488.6M508 467.6H513M508 488.6H513"/>
<path class="b" d="M508.3 453.6L512.4 450.2L513.4 452Z M765.1 305.6L761 309L760 307.2Z M796.3 312.8L801.6 314.2L800.6 316Z M875.4 357.2L870.1 355.8L871.1 354Z M510.5 467.6L511.4 471.8H509.6Z M510.5 488.6L511.4 484.4H509.6Z"/>
<text transform="translate(641.6 367.6) rotate(-30)" font-size="15" text-anchor="middle" letter-spacing="0.2">620</text>
<text transform="translate(840 327.6) rotate(30)" font-size="15" text-anchor="middle">100</text>
<text transform="translate(501 476) rotate(-90)" font-size="15.5" text-anchor="middle" textLength="15" lengthAdjust="spacingAndGlyphs">25</text>
</g>
</svg>
</body>
</html>
